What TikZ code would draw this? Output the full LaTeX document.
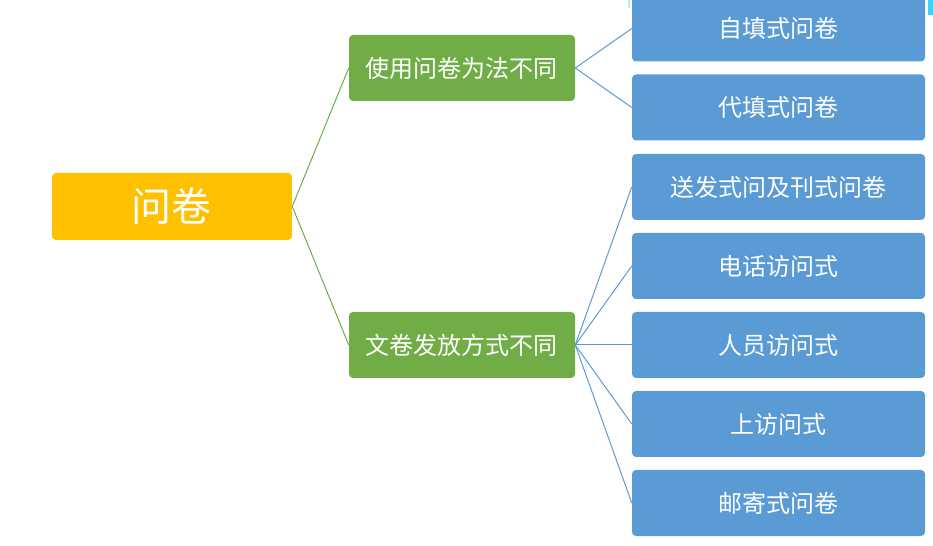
\documentclass[tikz,border=0pt]{standalone}
\usepackage{fontspec}
\setmainfont{Noto Sans CJK SC}
\usetikzlibrary{trees}
\definecolor{wjorange}{HTML}{FFC000}
\definecolor{wjgreen}{HTML}{70AD47}
\definecolor{wjblue}{HTML}{5B9BD5}
\definecolor{wjcyan}{HTML}{3CD2F5}

\begin{document}
\begin{tikzpicture}[grow'=right, edge from parent path={(\tikzparentnode.east) -- (\tikzchildnode.west)},
                level 1/.style={level distance=217.5pt, sibling distance=207.75pt,
                    edge from parent/.style={draw = wjgreen, line width = .75pt}},
                level 2/.style={level distance=237.4pt, sibling distance=59.25pt,
                    edge from parent/.style={draw = wjblue, line width = .75pt}}]
            \tikzstyle{every node}=[rectangle, rounded corners = 3pt, inner sep = 0pt, text = white]
            \tikzstyle{topic}=[fill = wjorange, minimum width = 180pt, minimum height = 50.25pt, font = \fontsize{30}{36}\selectfont]
            \tikzstyle{branch}=[fill = wjgreen, minimum width = 169.5pt, minimum height = 49.5pt, font = \fontsize{18}{22}\selectfont]
            \tikzstyle{leaf}=[fill = wjblue, minimum width = 219.75pt, minimum height = 49.5pt, font = \fontsize{18}{22}\selectfont]
            \useasboundingbox (-129pt, -254.625pt) rectangle (570.75pt, 154.875pt);
            \node[topic] (wenjuan) {问卷}
            child {node[branch] (fangfa) {使用问卷为法不同}
                    child {node[leaf] (ziti) {自填式问卷}}
                    child {node[leaf] (daiti) {代填式问卷}}
                }
            child {node[branch] (fafang) {文卷发放方式不同}
                    child {node[leaf] (songfa) {送发式问及刊式问卷}}
                    child {node[leaf] (dianhua) {电话访问式}}
                    child {node[leaf] (renyuan) {人员访问式}}
                    child {node[leaf] (shangfang) {上访问式}}
                    child {node[leaf] (youji) {邮寄式问卷}}
                };
            % selection marks at the top edge
            \fill[wjcyan!40] (342pt, 148.875pt) rectangle (343.5pt, 154.875pt);
            \fill[wjcyan] (567pt, 143.625pt) rectangle (570.75pt, 154.875pt);
        \end{tikzpicture}
\end{document}
